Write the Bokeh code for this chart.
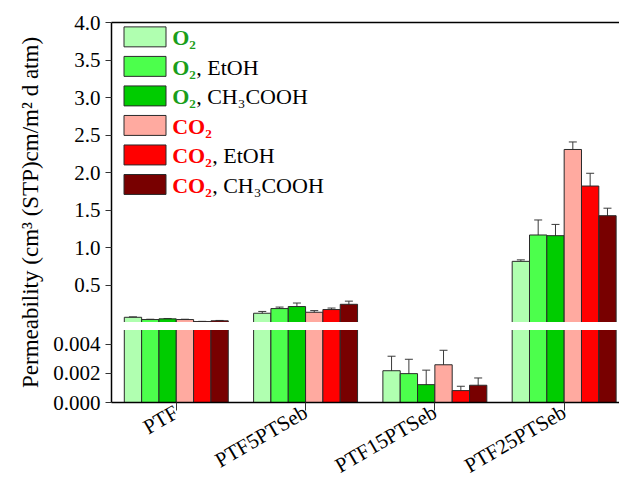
import math
from bokeh.plotting import figure
from bokeh.models import (Range1d, LinearAxis, FixedTicker, CustomJSTickFormatter,
                          ColumnDataSource, Whisker, TeeHead)
from bokeh.core.properties import value
from bokeh.embed import file_html
from bokeh.resources import INLINE

# ---------------- data ----------------
samples = ["PTF", "PTF5PTSeb", "PTF15PTSeb", "PTF25PTSeb"]

o2          = [0.074, 0.128, 0.00219, 0.819]
o2_etoh     = [0.044, 0.190, 0.00199, 1.170]
o2_acoh     = [0.053, 0.217, 0.00123, 1.161]
co2         = [0.044, 0.141, 0.00260, 2.309]
co2_etoh    = [0.017, 0.177, 0.00082, 1.822]
co2_acoh    = [0.027, 0.247, 0.00119, 1.427]

o2_err       = [0.006, 0.024, 0.00100, 0.02]
o2_etoh_err  = [0.004, 0.020, 0.00099, 0.20]
o2_acoh_err  = [0.005, 0.047, 0.00100, 0.15]
co2_err      = [0.004, 0.022, 0.00100, 0.10]
co2_etoh_err = [0.003, 0.020, 0.00030, 0.17]
co2_acoh_err = [0.005, 0.042, 0.00050, 0.10]

series_formula = ["O₂", "O₂", "O₂", "CO₂", "CO₂", "CO₂"]
series_rest = ["", ", EtOH", ", CH₃COOH", "", ", EtOH", ", CH₃COOH"]
formula_colors = ["#1a9e1a", "#1a9e1a", "#1a9e1a", "#ff0000", "#ff0000", "#ff0000"]
bar_colors = ["#b0ffb0", "#4cff4c", "#00cc00", "#ffaaa0", "#ff0000", "#780000"]

lower_ticks = [0.000, 0.002, 0.004]
lower_tick_labels = ["0.000", "0.002", "0.004"]
upper_ticks = [0.5, 1.0, 1.5, 2.0, 2.5, 3.0, 3.5, 4.0]
upper_tick_labels = ["0.5", "1.0", "1.5", "2.0", "2.5", "3.0", "3.5", "4.0"]

values = [o2, o2_etoh, o2_acoh, co2, co2_etoh, co2_acoh]
errors = [o2_err, o2_etoh_err, o2_acoh_err, co2_err, co2_etoh_err, co2_acoh_err]

# ---------------- broken axis geometry ----------------
FONT = "Liberation Serif"
BREAK_FRAC = 0.2096          # fraction of frame height where the break sits
LOW_BREAK = 0.00549          # lower-segment value at the break
LOW_END = LOW_BREAK / BREAK_FRAC
UP_END = 4.0
UP_START = -BREAK_FRAC / (1 - BREAK_FRAC) * UP_END
LOW_CAP = 0.0055
BAND_BOT, BAND_TOP = -0.095, 0.010

X_START, X_END = -0.501, 3.428
BAR_W = 0.134

def upper_to_lower(v):
    return (v - UP_START) / (UP_END - UP_START) * LOW_END

p = figure(width=619, height=490, output_backend="svg", toolbar_location=None,
           x_range=Range1d(X_START, X_END), y_range=Range1d(0, LOW_END),
           min_border_left=111, min_border_top=22, min_border_right=0,
           min_border_bottom=0, background_fill_color="white",
           border_fill_color="white", outline_line_color=None)
p.extra_y_ranges = {"upper": Range1d(UP_START, UP_END)}
p.xgrid.visible = False
p.ygrid.visible = False

# ---------------- bars ----------------
for i in range(6):
    offs = (i - 2.5) * BAR_W
    xs = [k + offs for k in range(len(samples))]
    vals = values[i]
    errs = errors[i]
    low_top = [min(v, LOW_CAP) for v in vals]
    p.vbar(x=xs, top=low_top, bottom=0, width=BAR_W, fill_color=bar_colors[i],
           line_color="#2a2a2a", line_width=1)
    up_x = [x for x, v in zip(xs, vals) if v > LOW_CAP]
    up_v = [v for v in vals if v > LOW_CAP]
    up_e = [e for e, v in zip(errs, vals) if v > LOW_CAP]
    p.vbar(x=up_x, top=up_v, bottom=0, width=BAR_W, fill_color=bar_colors[i],
           line_color="#2a2a2a", line_width=1, y_range_name="upper")
    lo_x = [x for x, v in zip(xs, vals) if v <= LOW_CAP]
    lo_v = [v for v in vals if v <= LOW_CAP]
    lo_e = [e for e, v in zip(errs, vals) if v <= LOW_CAP]
    for (bx, bv, be, rn) in [(up_x, up_v, up_e, "upper"), (lo_x, lo_v, lo_e, "default")]:
        if not bx:
            continue
        src = ColumnDataSource(dict(x=bx, upper=[v + e for v, e in zip(bv, be)],
                                    lower=[v - e for v, e in zip(bv, be)]))
        w = Whisker(source=src, base="x", upper="upper", lower="lower",
                    dimension="height", line_color="#3a3a3a", line_width=1,
                    upper_head=TeeHead(size=8, line_color="#3a3a3a", line_width=1),
                    lower_head=TeeHead(size=8, line_color="#3a3a3a", line_width=1),
                    y_range_name=rn)
        p.add_layout(w)

# white break band
p.quad(left=X_START, right=X_END, bottom=BAND_BOT, top=BAND_TOP, y_range_name="upper",
       fill_color="white", line_color=None)

# ---------------- axes ----------------
tick_pos = list(lower_ticks) + [upper_to_lower(v) for v in upper_ticks]
tick_lab = list(lower_tick_labels) + list(upper_tick_labels)
yax = p.yaxis[0]
yax.ticker = FixedTicker(ticks=tick_pos)
yax.formatter = CustomJSTickFormatter(args=dict(pos=tick_pos, labs=tick_lab), code="""
    for (let i = 0; i < pos.length; i++) {
        if (Math.abs(pos[i] - tick) < 1e-9) return labs[i];
    }
    return '';
""")
yax.axis_label = "Permeability (cm³ (STP)cm/m² d atm)"

xax = p.xaxis[0]
xax.ticker = FixedTicker(ticks=list(range(len(samples))))
xax.major_label_overrides = {i: s for i, s in enumerate(samples)}
xax.major_label_orientation = math.pi / 6

for ax in (xax, yax):
    ax.axis_line_color = "black"
    ax.axis_line_width = 1.5
    ax.major_tick_line_color = "#333333"
    ax.major_tick_line_width = 1
    ax.major_tick_in = 0
    ax.minor_tick_in = 0
    ax.minor_tick_out = 0
    ax.major_label_text_font = FONT
    ax.major_label_text_color = "black"
    ax.axis_label_text_font = FONT
    ax.axis_label_text_font_style = "normal"
    ax.axis_label_text_color = "black"
xax.major_label_text_font_size = "21px"
yax.major_label_text_font_size = "21px"
yax.axis_label_text_font_size = "23px"
xax.major_tick_out = 8
xax.major_label_standoff = 0
yax.major_tick_out = 6
yax.major_label_standoff = 5
yax.axis_label_standoff = 7

top = LinearAxis(ticker=FixedTicker(ticks=[]), major_tick_out=0, major_tick_in=0,
                 minor_tick_out=0, minor_tick_in=0, axis_line_color="black",
                 axis_line_width=1.5, major_label_standoff=0)
p.add_layout(top, "above")

# ---------------- legend (manual, mixed-style labels) ----------------
FRAME_H = 381.0
FRAME_W = 508.0
def dx(px):  # px from frame left -> data x
    return X_START + px * (X_END - X_START) / FRAME_W
def dy(px):  # px from frame top -> data y (lower range)
    return LOW_END - px * LOW_END / FRAME_H

SW_L, SW_R, SW_T, SW_H, SW_STEP = 12.5, 54.5, 4.4, 20.0, 29.6
TXT_X = 60.7
FORM_W = {"O₂": 24.0, "CO₂": 40.0}

p.quad(left=[dx(SW_L)] * 6, right=[dx(SW_R)] * 6,
       top=[dy(SW_T + i * SW_STEP) for i in range(6)],
       bottom=[dy(SW_T + i * SW_STEP + SW_H) for i in range(6)],
       fill_color=bar_colors, line_color="#2a2a2a", line_width=1)

tx, ty, tt, tc, ts = [], [], [], [], []
for i in range(6):
    yc = dy(SW_T + i * SW_STEP + SW_H / 2 + 1)
    tx.append(dx(TXT_X)); ty.append(yc); tt.append(series_formula[i])
    tc.append(formula_colors[i]); ts.append("bold")
    if series_rest[i]:
        tx.append(dx(TXT_X + FORM_W[series_formula[i]])); ty.append(yc)
        tt.append(series_rest[i]); tc.append("black"); ts.append("normal")
p.text(x=tx, y=ty, text=tt, text_color=tc, text_font_style=ts,
       text_font=value(FONT), text_font_size="22px", text_baseline="middle",
       text_align="left")

open("out.html", "w").write(file_html(p, INLINE))
